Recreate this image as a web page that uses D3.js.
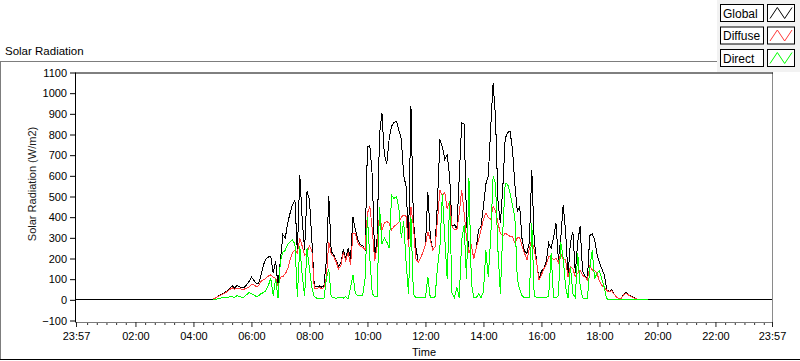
<!DOCTYPE html>
<html><head><meta charset="utf-8">
<script src="https://cdn.jsdelivr.net/npm/d3@7"></script>
<style>
html,body{margin:0;padding:0;background:#fff;}
svg{display:block;font-family:'Liberation Sans',Arial,sans-serif;}
</style></head><body>
<svg id="chart" width="800" height="361"></svg>
<script>
// ---------------- DATA ----------------
const seriesNames = ["Global", "Diffuse", "Direct"];
const sampleStart = "04:40";     // first sample time
const sampleStepMinutes = 5;     // sampling interval

const globalValues = [
  3, 8, 16, 24, 29, 36, 44, 57, 68, 57,
  68, 65, 57, 60, 73, 89, 110, 94, 78, 81,
  121, 170, 197, 207, 210, 130, 186, 68, 194, 315,
  299, 372, 420, 461, 482, 227, 606, 388, 243, 525,
  485, 291, 65, 62, 68, 62, 68, 194, 501, 235,
  218, 194, 162, 178, 243, 200, 250,
  200, 400, 339, 291, 268, 262, 242, 740, 745, 600,
  200, 300, 800, 905, 700, 660, 780, 840, 858, 864,
  820, 780, 600, 550, 280, 940, 388, 260, 180, 205,
  230, 265, 520, 307, 240, 258, 480, 776, 740, 680,
  700, 600, 355, 365, 340, 600, 856, 850, 380, 226,
  260, 200, 250, 340, 355, 452, 560, 600, 830, 1050,
  880, 480, 370, 540, 780, 810, 815, 730, 560, 430,
  450, 290, 235, 225, 280, 630, 290, 185, 97, 140,
  150, 185, 275,
  250, 300, 370, 194, 300, 460, 330, 120, 280, 330,
  130, 280, 355, 140, 113, 100, 310, 320, 291, 220,
  180, 150, 120, 50, 40, 48, 30, 15, 5, 8,
  25, 35, 25, 18, 12, 6, 2, 0, 0, 0, 0
];
const diffuseValues = [
  3, 8, 15, 22, 27, 33, 40, 50, 58, 52,
  55, 55, 50, 52, 55, 62, 75, 72, 65, 68,
  90, 97, 105, 115, 121, 110, 105, 65, 110, 113,
  125, 150, 194, 230, 240, 227, 300, 260, 215, 227,
  260, 240, 55, 55, 60, 55, 60, 110, 280, 220,
  210, 185, 150, 165, 230, 190, 230,
  170, 320, 320, 275, 260, 255, 242, 420, 452, 339,
  190, 258, 420, 339, 372, 380, 370, 339, 355, 365,
  375, 400, 410, 404, 258, 450, 360, 200, 180, 205,
  230, 265, 330, 291, 240, 258, 388, 533, 501, 520,
  440, 480, 355, 339, 340, 420, 533, 420, 300, 226,
  260, 200, 250, 291, 340, 388, 420, 400, 388, 452,
  430, 372, 323, 307, 323, 315, 307, 307, 275, 300,
  300, 260, 226, 194, 250, 291, 240, 180, 97, 120,
  150, 170, 210,
  205, 194, 200, 180, 226, 194, 194, 110, 161, 150,
  113, 129, 145, 120, 110, 97, 161, 145, 140, 129,
  90, 70, 60, 45, 38, 45, 28, 14, 5, 7,
  24, 33, 23, 16, 11, 5, 2, 0, 0, 0, 0
];
const directValues = [
  0, 2, 5, 8, 10, 10, 12, 14, 15, 12,
  20, 16, 12, 14, 25, 35, 30, 25, 15, 20,
  30, 35, 45, 70, 105, 20, 100, 10, 190, 230,
  240, 270, 280, 290, 270, 15, 260, 120, 20, 250,
  150, 60, 15, 8, 5, 5, 8, 100, 150, 15,
  10, 8, 10, 12, 8, 15, 5,
  60, 120, 30, 20, 20, 20, 100, 400, 200, 30,
  15, 15, 450, 270, 300, 280, 250, 505, 490, 500,
  445, 300, 380, 180, 30, 400, 30, 10, 10, 10,
  10, 10, 110, 10, 10, 15, 160, 260, 510, 300,
  100, 480, 30, 10, 60, 10, 290, 360, 100, 590,
  80, 10, 10, 30, 10, 40, 240, 110, 300, 600,
  560, 240, 30, 330, 565, 560, 517, 460, 400, 100,
  50, 20, 10, 10, 10, 370, 20, 10, 10, 10,
  10, 10, 20,
  226, 10, 10, 20, 280, 200, 60, 10, 160, 30,
  10, 226, 70, 10, 5, 5, 150, 240, 100, 130,
  140, 100, 60, 5, 2, 2, 2, 2, 1, 1,
  1, 1, 1, 1, 1, 1, 0, 0, 0, 0, 0
];

const xDomainMinutes = [-3, 1437];   // 23:57 (previous day) to 23:57
const xTickMinutes = [-3, 120, 240, 360, 480, 600, 720, 840, 960, 1080, 1200, 1320, 1437];
const xTickLabels = ["23:57", "02:00", "04:00", "06:00", "08:00", "10:00", "12:00",
                     "14:00", "16:00", "18:00", "20:00", "22:00", "23:57"];
const xMinorStepMinutes = 20;
const yDomain = [-100, 1100];
const yTickValues = [-100, 0, 100, 200, 300, 400, 500, 600, 700, 800, 900, 1000, 1100];

// ---------------- DRAW ----------------
const colors = {Global: "#000000", Diffuse: "#ff3a3a", Direct: "#00ff00"};
const svg = d3.select("#chart");
const plot = {left: 75, right: 772, top: 72.5, bottom: 320.5};

const x = d3.scaleLinear().domain(xDomainMinutes).range([plot.left + 1, plot.right]);
const y = d3.scaleLinear().domain(yDomain).range([plot.bottom, plot.top]);

const [sh, sm] = sampleStart.split(":").map(Number);
const t0 = sh * 60 + sm;
const toPoints = vals => vals.map((v, i) => [t0 + i * sampleStepMinutes, v]);

// outer frame
svg.append("line").attr("x1", 0).attr("x2", 717).attr("y1", 61.5).attr("y2", 61.5).attr("stroke", "#7d7d7d");
svg.append("line").attr("x1", 0.5).attr("x2", 0.5).attr("y1", 61.5).attr("y2", 359).attr("stroke", "#7d7d7d");
svg.append("line").attr("x1", 0).attr("x2", 800).attr("y1", 359.5).attr("y2", 359.5).attr("stroke", "#000");

// title
svg.append("text").attr("x", 5).attr("y", 55).attr("font-size", "11.5px").attr("fill", "#000").text("Solar Radiation");

// plot area
svg.append("rect").attr("x", plot.left).attr("y", plot.top).attr("width", plot.right - plot.left).attr("height", plot.bottom - plot.top + 1.5).attr("fill", "#fff");

// clip
svg.append("clipPath").attr("id", "clip").append("rect")
  .attr("x", plot.left + 0.5).attr("y", plot.top).attr("width", plot.right - plot.left).attr("height", plot.bottom - plot.top + 1);

const line = d3.line().x(d => x(d[0])).y(d => y(d[1]));
const g = svg.append("g").attr("clip-path", "url(#clip)");

const globalPts = [[xDomainMinutes[0], 0]].concat(toPoints(globalValues), [[xDomainMinutes[1], 0]]);
g.append("path").datum(globalPts).attr("d", line).attr("fill", "none").attr("stroke", colors.Global).attr("stroke-width", 1).attr("shape-rendering", "crispEdges");
g.append("path").datum(toPoints(diffuseValues)).attr("d", line).attr("fill", "none").attr("stroke", colors.Diffuse).attr("stroke-width", 1).attr("shape-rendering", "crispEdges");
g.append("path").datum(toPoints(directValues)).attr("d", line).attr("fill", "none").attr("stroke", colors.Direct).attr("stroke-width", 1).attr("shape-rendering", "crispEdges");

// borders: right & bottom grey
svg.append("line").attr("x1", plot.right + 0.5).attr("x2", plot.right + 0.5).attr("y1", plot.top).attr("y2", plot.bottom + 2).attr("stroke", "#8a8a8a");

// y axis
const yAxis = svg.append("g").attr("transform", `translate(${plot.left},0)`)
  .call(d3.axisLeft(y).tickValues(yTickValues).tickSize(5).tickPadding(3).tickFormat(d3.format("d")));
yAxis.select(".domain").remove();
yAxis.selectAll(".tick line").attr("stroke", "#000");
yAxis.selectAll("text").attr("font-size", "11px").attr("font-family", "'Liberation Sans',Arial,sans-serif").attr("fill", "#000");
svg.append("line").attr("x1", plot.left + 0.5).attr("x2", plot.left + 0.5).attr("y1", plot.top).attr("y2", plot.bottom + 2).attr("stroke", "#000");
svg.append("line").attr("x1", plot.left).attr("x2", plot.right + 1).attr("y1", plot.top + 0.5).attr("y2", plot.top + 0.5).attr("stroke", "#000");

// x axis
const axisY = plot.bottom + 1.5;
const minorTicks = d3.range(0, 1440, xMinorStepMinutes).filter(m => m % 120 !== 0);
const xMinor = svg.append("g").attr("transform", `translate(0,${axisY})`)
  .call(d3.axisBottom(x).tickValues(minorTicks).tickSize(3).tickFormat(""));
xMinor.select(".domain").remove();
xMinor.selectAll(".tick line").attr("stroke", "#333");

const xAxis = svg.append("g").attr("transform", `translate(0,${axisY})`)
  .call(d3.axisBottom(x).tickValues(xTickMinutes).tickSize(5).tickPadding(5).tickFormat((d, i) => xTickLabels[i]));
xAxis.select(".domain").attr("stroke", "#7a7a7a").attr("d", `M${plot.left + 1},0.5H${plot.right + 1}`);
xAxis.selectAll(".tick line").attr("stroke", "#222");
xAxis.selectAll("text").attr("font-size", "11px").attr("font-family", "'Liberation Sans',Arial,sans-serif").attr("fill", "#000");

// axis titles
svg.append("text").attr("x", 424).attr("y", 356).attr("text-anchor", "middle").attr("font-size", "11px").attr("fill", "#000").text("Time");
svg.append("text").attr("transform", "translate(36,184) rotate(-90)").attr("text-anchor", "middle").attr("font-size", "11px").attr("fill", "#1a1a1a").text("Solar Radiation (W/m2)");

// legend
svg.append("rect").attr("x", 717).attr("y", 0).attr("width", 83).attr("height", 72).attr("fill", "#f2f2f2");
seriesNames.forEach((name, i) => {
  const top = 4.5 + i * 22.5;
  svg.append("rect").attr("x", 720.5).attr("y", top).attr("width", 43).attr("height", 17)
    .attr("fill", "#fff").attr("stroke", "#000");
  svg.append("text").attr("x", 723).attr("y", top + 13).attr("font-size", "12px").attr("fill", "#000").text(name);
  svg.append("rect").attr("x", 767.5).attr("y", top).attr("width", 27).attr("height", 17)
    .attr("fill", "#fff").attr("stroke", "#000");
  const x0 = 770, w = 22, yb = top + 14, yt = top + 3;
  svg.append("path").attr("d", `M${x0},${yb}L${x0 + w / 3},${yt}L${x0 + 2 * w / 3},${yb}L${x0 + w},${yt}`)
    .attr("fill", "none").attr("stroke", colors[name]).attr("stroke-width", 1);
});
</script>
</body></html>
